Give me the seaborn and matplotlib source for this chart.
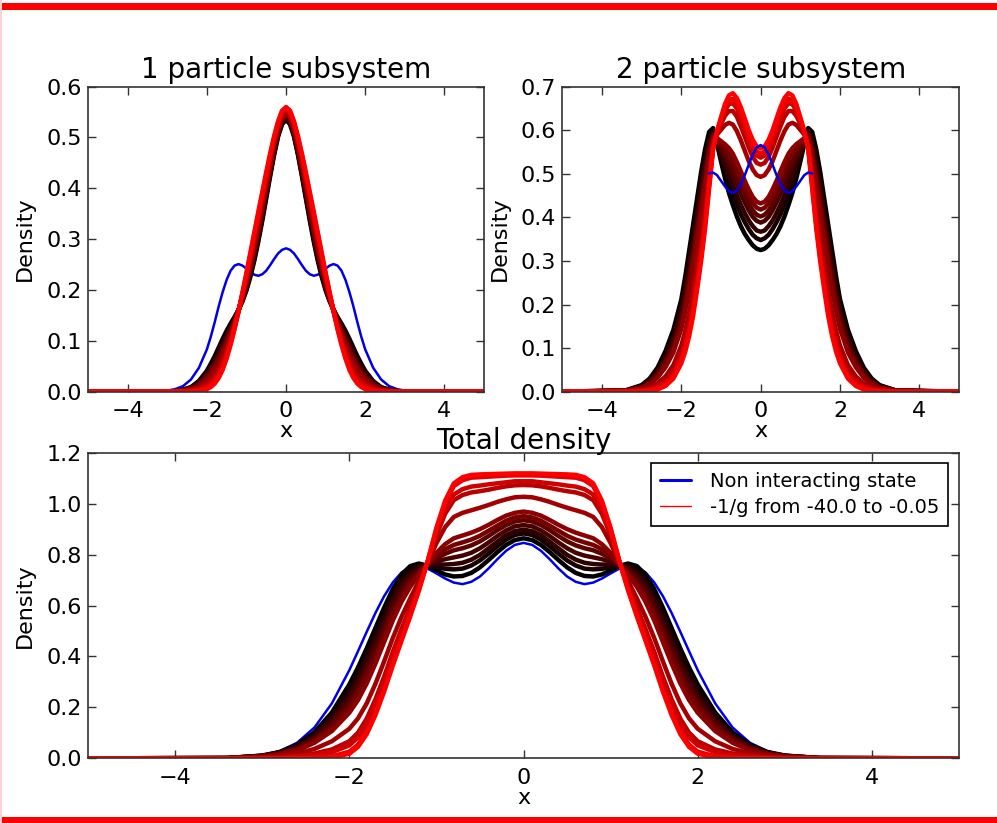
import matplotlib
matplotlib.use("Agg")
import matplotlib.pyplot as plt
from matplotlib.patches import Rectangle
from matplotlib.lines import Line2D
import pandas as pd
import seaborn as sns

# ---------------- data ----------------
X = [-5.0, -3.4, -3.0, -2.8, -2.6, -2.4, -2.2, -2.0, -1.9, -1.8, -1.7, -1.6, -1.5, -1.4, -1.3, -1.2,
     -1.1, -1.0, -0.9, -0.8, -0.7, -0.6, -0.5, -0.4, -0.3, -0.2, -0.1, 0.0, 0.1, 0.2, 0.3, 0.4, 0.5,
     0.6, 0.7, 0.8, 0.9, 1.0, 1.1, 1.2, 1.3, 1.4, 1.5, 1.6, 1.7, 1.8, 1.9, 2.0, 2.2, 2.4, 2.6, 2.8,
     3.0, 3.4, 5.0]

ONE_BLUE = [0, 0, 0.002, 0.005, 0.011, 0.024, 0.047, 0.083, 0.108, 0.137, 0.168, 0.196, 0.220, 0.238, 0.248, 0.251, 0.248, 0.242, 0.235, 0.230, 0.228, 0.231, 0.238, 0.249, 0.261, 0.272, 0.279, 0.282, 0.279, 0.272, 0.261, 0.249, 0.238, 0.231, 0.228, 0.230, 0.235, 0.242, 0.248, 0.251, 0.248, 0.238, 0.220, 0.196, 0.168, 0.137, 0.108, 0.083, 0.047, 0.024, 0.011, 0.005, 0.002, 0, 0]

ONE_PARTICLE = [
    [0, 0, 0, 0.001, 0.004, 0.009, 0.021, 0.041, 0.055, 0.070, 0.087, 0.104, 0.120, 0.134, 0.147, 0.161, 0.178, 0.199, 0.226, 0.258, 0.295, 0.336, 0.380, 0.424, 0.466, 0.502, 0.526, 0.535, 0.526, 0.502, 0.466, 0.424, 0.380, 0.336, 0.295, 0.258, 0.226, 0.199, 0.178, 0.161, 0.147, 0.134, 0.120, 0.104, 0.087, 0.070, 0.055, 0.041, 0.021, 0.009, 0.004, 0.001, 0, 0, 0],
    [0, 0, 0, 0.001, 0.004, 0.008, 0.019, 0.038, 0.051, 0.066, 0.082, 0.099, 0.116, 0.131, 0.145, 0.161, 0.179, 0.202, 0.230, 0.262, 0.300, 0.341, 0.384, 0.428, 0.469, 0.504, 0.528, 0.537, 0.528, 0.504, 0.469, 0.428, 0.384, 0.341, 0.300, 0.262, 0.230, 0.202, 0.179, 0.161, 0.145, 0.131, 0.116, 0.099, 0.082, 0.066, 0.051, 0.038, 0.019, 0.008, 0.004, 0.001, 0, 0, 0],
    [0, 0, 0, 0.001, 0.003, 0.008, 0.018, 0.035, 0.048, 0.061, 0.077, 0.094, 0.111, 0.127, 0.143, 0.161, 0.181, 0.205, 0.234, 0.267, 0.304, 0.345, 0.388, 0.431, 0.472, 0.507, 0.530, 0.539, 0.530, 0.507, 0.472, 0.431, 0.388, 0.345, 0.304, 0.267, 0.234, 0.205, 0.181, 0.161, 0.143, 0.127, 0.111, 0.094, 0.077, 0.061, 0.048, 0.035, 0.018, 0.008, 0.003, 0.001, 0, 0, 0],
    [0, 0, 0, 0.001, 0.003, 0.007, 0.016, 0.032, 0.044, 0.057, 0.073, 0.089, 0.107, 0.124, 0.141, 0.160, 0.182, 0.207, 0.238, 0.271, 0.309, 0.350, 0.393, 0.435, 0.475, 0.509, 0.532, 0.541, 0.532, 0.509, 0.475, 0.435, 0.393, 0.350, 0.309, 0.271, 0.238, 0.207, 0.182, 0.160, 0.141, 0.124, 0.107, 0.089, 0.073, 0.057, 0.044, 0.032, 0.016, 0.007, 0.003, 0.001, 0, 0, 0],
    [0, 0, 0, 0.001, 0.003, 0.006, 0.015, 0.030, 0.040, 0.053, 0.068, 0.085, 0.102, 0.121, 0.139, 0.160, 0.183, 0.210, 0.241, 0.276, 0.314, 0.354, 0.397, 0.438, 0.478, 0.512, 0.535, 0.543, 0.535, 0.512, 0.478, 0.438, 0.397, 0.354, 0.314, 0.276, 0.241, 0.210, 0.183, 0.160, 0.139, 0.121, 0.102, 0.085, 0.068, 0.053, 0.040, 0.030, 0.015, 0.006, 0.003, 0.001, 0, 0, 0],
    [0, 0, 0, 0.001, 0.003, 0.006, 0.013, 0.027, 0.037, 0.048, 0.063, 0.080, 0.098, 0.117, 0.137, 0.160, 0.185, 0.213, 0.245, 0.280, 0.319, 0.359, 0.401, 0.442, 0.481, 0.514, 0.537, 0.545, 0.537, 0.514, 0.481, 0.442, 0.401, 0.359, 0.319, 0.280, 0.245, 0.213, 0.185, 0.160, 0.137, 0.117, 0.098, 0.080, 0.063, 0.048, 0.037, 0.027, 0.013, 0.006, 0.003, 0.001, 0, 0, 0],
    [0, 0, 0, 0.001, 0.002, 0.005, 0.011, 0.024, 0.033, 0.044, 0.058, 0.075, 0.094, 0.114, 0.135, 0.160, 0.186, 0.216, 0.249, 0.285, 0.323, 0.363, 0.405, 0.446, 0.484, 0.516, 0.539, 0.547, 0.539, 0.516, 0.484, 0.446, 0.405, 0.363, 0.323, 0.285, 0.249, 0.216, 0.186, 0.160, 0.135, 0.114, 0.094, 0.075, 0.058, 0.044, 0.033, 0.024, 0.011, 0.005, 0.002, 0.001, 0, 0, 0],
    [0, 0, 0, 0, 0.001, 0.003, 0.008, 0.018, 0.026, 0.035, 0.049, 0.065, 0.085, 0.107, 0.132, 0.159, 0.189, 0.221, 0.257, 0.294, 0.333, 0.373, 0.413, 0.453, 0.490, 0.521, 0.543, 0.551, 0.543, 0.521, 0.490, 0.453, 0.413, 0.373, 0.333, 0.294, 0.257, 0.221, 0.189, 0.159, 0.132, 0.107, 0.085, 0.065, 0.049, 0.035, 0.026, 0.018, 0.008, 0.003, 0.001, 0, 0, 0, 0],
    [0, 0, 0, 0, 0.001, 0.002, 0.006, 0.014, 0.020, 0.029, 0.041, 0.058, 0.078, 0.102, 0.129, 0.159, 0.191, 0.226, 0.263, 0.301, 0.340, 0.379, 0.420, 0.458, 0.494, 0.525, 0.547, 0.554, 0.547, 0.525, 0.494, 0.458, 0.420, 0.379, 0.340, 0.301, 0.263, 0.226, 0.191, 0.159, 0.129, 0.102, 0.078, 0.058, 0.041, 0.029, 0.020, 0.014, 0.006, 0.002, 0.001, 0, 0, 0, 0],
    [0, 0, 0, 0, 0.001, 0.001, 0.004, 0.011, 0.016, 0.025, 0.037, 0.053, 0.074, 0.099, 0.127, 0.158, 0.192, 0.228, 0.266, 0.305, 0.345, 0.384, 0.424, 0.462, 0.497, 0.527, 0.549, 0.556, 0.549, 0.527, 0.497, 0.462, 0.424, 0.384, 0.345, 0.305, 0.266, 0.228, 0.192, 0.158, 0.127, 0.099, 0.074, 0.053, 0.037, 0.025, 0.016, 0.011, 0.004, 0.001, 0.001, 0, 0, 0, 0],
    [0, 0, 0, 0, 0, 0.001, 0.003, 0.008, 0.013, 0.020, 0.032, 0.048, 0.069, 0.095, 0.125, 0.158, 0.194, 0.231, 0.270, 0.310, 0.349, 0.388, 0.428, 0.465, 0.500, 0.530, 0.551, 0.558, 0.551, 0.530, 0.500, 0.465, 0.428, 0.388, 0.349, 0.310, 0.270, 0.231, 0.194, 0.158, 0.125, 0.095, 0.069, 0.048, 0.032, 0.020, 0.013, 0.008, 0.003, 0.001, 0, 0, 0, 0, 0],
    [0, 0, 0, 0, 0, 0, 0.001, 0.005, 0.009, 0.016, 0.027, 0.043, 0.065, 0.092, 0.123, 0.158, 0.195, 0.234, 0.274, 0.314, 0.354, 0.393, 0.432, 0.469, 0.503, 0.532, 0.553, 0.560, 0.553, 0.532, 0.503, 0.469, 0.432, 0.393, 0.354, 0.314, 0.274, 0.234, 0.195, 0.158, 0.123, 0.092, 0.065, 0.043, 0.027, 0.016, 0.009, 0.005, 0.001, 0, 0, 0, 0, 0, 0],
]

# the non-interacting 2-particle curve is only visible between x = -1.3 and 1.3
TWO_BLUE = [None] * 14 + [0.501, 0.503, 0.497, 0.484, 0.471, 0.460, 0.456, 0.462, 0.476, 0.497, 0.521, 0.544, 0.561, 0.566, 0.561, 0.544, 0.521, 0.497, 0.476, 0.462, 0.456, 0.460, 0.471, 0.484, 0.497, 0.503, 0.501] + [None] * 14

TWO_PARTICLE = [
    [0, 0.003, 0.015, 0.030, 0.055, 0.093, 0.142, 0.212, 0.265, 0.325, 0.385, 0.445, 0.505, 0.557, 0.596, 0.605, 0.568, 0.528, 0.490, 0.456, 0.428, 0.402, 0.380, 0.362, 0.348, 0.336, 0.328, 0.325, 0.328, 0.336, 0.348, 0.362, 0.380, 0.402, 0.428, 0.456, 0.490, 0.528, 0.568, 0.605, 0.596, 0.557, 0.505, 0.445, 0.385, 0.325, 0.265, 0.212, 0.142, 0.093, 0.055, 0.030, 0.015, 0.003, 0],
    [0, 0.003, 0.014, 0.027, 0.050, 0.085, 0.131, 0.197, 0.248, 0.305, 0.364, 0.424, 0.485, 0.539, 0.583, 0.600, 0.571, 0.538, 0.507, 0.478, 0.454, 0.429, 0.407, 0.389, 0.373, 0.360, 0.352, 0.348, 0.352, 0.360, 0.373, 0.389, 0.407, 0.429, 0.454, 0.478, 0.507, 0.538, 0.571, 0.600, 0.583, 0.539, 0.485, 0.424, 0.364, 0.305, 0.248, 0.197, 0.131, 0.085, 0.050, 0.027, 0.014, 0.003, 0],
    [0, 0.002, 0.012, 0.025, 0.046, 0.079, 0.122, 0.185, 0.234, 0.290, 0.347, 0.407, 0.468, 0.524, 0.572, 0.596, 0.573, 0.546, 0.521, 0.496, 0.474, 0.451, 0.429, 0.410, 0.393, 0.380, 0.370, 0.367, 0.370, 0.380, 0.393, 0.410, 0.429, 0.451, 0.474, 0.496, 0.521, 0.546, 0.573, 0.596, 0.572, 0.524, 0.468, 0.407, 0.347, 0.290, 0.234, 0.185, 0.122, 0.079, 0.046, 0.025, 0.012, 0.002, 0],
    [0, 0.002, 0.011, 0.022, 0.042, 0.071, 0.112, 0.172, 0.218, 0.272, 0.328, 0.388, 0.450, 0.508, 0.561, 0.592, 0.576, 0.556, 0.536, 0.517, 0.497, 0.475, 0.454, 0.434, 0.416, 0.401, 0.392, 0.388, 0.392, 0.401, 0.416, 0.434, 0.454, 0.475, 0.497, 0.517, 0.536, 0.556, 0.576, 0.592, 0.561, 0.508, 0.450, 0.388, 0.328, 0.272, 0.218, 0.172, 0.112, 0.071, 0.042, 0.022, 0.011, 0.002, 0],
    [0, 0.002, 0.010, 0.021, 0.039, 0.067, 0.105, 0.164, 0.208, 0.260, 0.316, 0.376, 0.437, 0.497, 0.553, 0.589, 0.578, 0.562, 0.546, 0.530, 0.513, 0.492, 0.470, 0.450, 0.431, 0.416, 0.406, 0.402, 0.406, 0.416, 0.431, 0.450, 0.470, 0.492, 0.513, 0.530, 0.546, 0.562, 0.578, 0.589, 0.553, 0.497, 0.437, 0.376, 0.316, 0.260, 0.208, 0.164, 0.105, 0.067, 0.039, 0.021, 0.010, 0.002, 0],
    [0, 0.002, 0.009, 0.019, 0.035, 0.061, 0.097, 0.153, 0.196, 0.246, 0.301, 0.361, 0.423, 0.484, 0.544, 0.585, 0.580, 0.569, 0.558, 0.546, 0.531, 0.511, 0.489, 0.468, 0.449, 0.433, 0.422, 0.418, 0.422, 0.433, 0.449, 0.468, 0.489, 0.511, 0.531, 0.546, 0.558, 0.569, 0.580, 0.585, 0.544, 0.484, 0.423, 0.361, 0.301, 0.246, 0.196, 0.153, 0.097, 0.061, 0.035, 0.019, 0.009, 0.002, 0],
    [0, 0.002, 0.009, 0.017, 0.032, 0.056, 0.090, 0.144, 0.185, 0.234, 0.288, 0.348, 0.411, 0.473, 0.536, 0.582, 0.582, 0.575, 0.568, 0.559, 0.546, 0.527, 0.506, 0.484, 0.464, 0.447, 0.436, 0.432, 0.436, 0.447, 0.464, 0.484, 0.506, 0.527, 0.546, 0.559, 0.568, 0.575, 0.582, 0.582, 0.536, 0.473, 0.411, 0.348, 0.288, 0.234, 0.185, 0.144, 0.090, 0.056, 0.032, 0.017, 0.009, 0.002, 0],
    [0, 0.001, 0.005, 0.010, 0.019, 0.035, 0.061, 0.106, 0.140, 0.183, 0.234, 0.294, 0.357, 0.426, 0.502, 0.570, 0.590, 0.601, 0.612, 0.617, 0.613, 0.598, 0.577, 0.553, 0.529, 0.510, 0.497, 0.493, 0.497, 0.510, 0.529, 0.553, 0.577, 0.598, 0.613, 0.617, 0.612, 0.601, 0.590, 0.570, 0.502, 0.426, 0.357, 0.294, 0.234, 0.183, 0.140, 0.106, 0.061, 0.035, 0.019, 0.010, 0.005, 0.001, 0],
    [0, 0.001, 0.003, 0.007, 0.013, 0.026, 0.048, 0.089, 0.120, 0.160, 0.209, 0.269, 0.333, 0.404, 0.486, 0.564, 0.593, 0.614, 0.633, 0.644, 0.644, 0.631, 0.609, 0.585, 0.560, 0.539, 0.525, 0.521, 0.525, 0.539, 0.560, 0.585, 0.609, 0.631, 0.644, 0.644, 0.633, 0.614, 0.593, 0.564, 0.486, 0.404, 0.333, 0.269, 0.209, 0.160, 0.120, 0.089, 0.048, 0.026, 0.013, 0.007, 0.003, 0.001, 0],
    [0, 0, 0.002, 0.005, 0.010, 0.020, 0.040, 0.078, 0.108, 0.146, 0.194, 0.254, 0.318, 0.391, 0.477, 0.560, 0.595, 0.621, 0.645, 0.660, 0.662, 0.650, 0.628, 0.603, 0.577, 0.556, 0.542, 0.537, 0.542, 0.556, 0.577, 0.603, 0.628, 0.650, 0.662, 0.660, 0.645, 0.621, 0.595, 0.560, 0.477, 0.391, 0.318, 0.254, 0.194, 0.146, 0.108, 0.078, 0.040, 0.020, 0.010, 0.005, 0.002, 0, 0],
    [0, 0, 0.002, 0.003, 0.008, 0.017, 0.036, 0.072, 0.101, 0.138, 0.186, 0.246, 0.310, 0.384, 0.472, 0.558, 0.597, 0.625, 0.652, 0.669, 0.672, 0.660, 0.639, 0.614, 0.587, 0.566, 0.551, 0.546, 0.551, 0.566, 0.587, 0.614, 0.639, 0.660, 0.672, 0.669, 0.652, 0.625, 0.597, 0.558, 0.472, 0.384, 0.310, 0.246, 0.186, 0.138, 0.101, 0.072, 0.036, 0.017, 0.008, 0.003, 0.002, 0, 0],
    [0, 0, 0.001, 0.002, 0.005, 0.013, 0.030, 0.065, 0.092, 0.128, 0.175, 0.235, 0.300, 0.375, 0.465, 0.556, 0.598, 0.630, 0.660, 0.680, 0.685, 0.674, 0.653, 0.627, 0.600, 0.578, 0.563, 0.558, 0.563, 0.578, 0.600, 0.627, 0.653, 0.674, 0.685, 0.680, 0.660, 0.630, 0.598, 0.556, 0.465, 0.375, 0.300, 0.235, 0.175, 0.128, 0.092, 0.065, 0.030, 0.013, 0.005, 0.002, 0.001, 0, 0],
]

TOTAL_BLUE = [0, 0.001, 0.011, 0.028, 0.061, 0.121, 0.216, 0.346, 0.421, 0.497, 0.571, 0.637, 0.691, 0.730, 0.751, 0.755, 0.745, 0.726, 0.706, 0.690, 0.684, 0.693, 0.714, 0.746, 0.782, 0.815, 0.838, 0.846, 0.838, 0.815, 0.782, 0.746, 0.714, 0.693, 0.684, 0.690, 0.706, 0.726, 0.745, 0.755, 0.751, 0.730, 0.691, 0.637, 0.571, 0.497, 0.421, 0.346, 0.216, 0.121, 0.061, 0.028, 0.011, 0.001, 0]

TOTAL = [
    [0, 0.001, 0.011, 0.025, 0.053, 0.102, 0.180, 0.290, 0.357, 0.432, 0.512, 0.592, 0.665, 0.722, 0.755, 0.765, 0.756, 0.738, 0.722, 0.714, 0.716, 0.728, 0.750, 0.779, 0.810, 0.838, 0.857, 0.864, 0.857, 0.838, 0.810, 0.779, 0.750, 0.728, 0.716, 0.714, 0.722, 0.738, 0.756, 0.765, 0.755, 0.722, 0.665, 0.592, 0.512, 0.432, 0.357, 0.290, 0.180, 0.102, 0.053, 0.025, 0.011, 0.001, 0],
    [0, 0.001, 0.010, 0.023, 0.049, 0.094, 0.167, 0.270, 0.334, 0.407, 0.486, 0.567, 0.643, 0.703, 0.740, 0.757, 0.757, 0.751, 0.744, 0.742, 0.745, 0.757, 0.777, 0.804, 0.833, 0.859, 0.877, 0.883, 0.877, 0.859, 0.833, 0.804, 0.777, 0.757, 0.745, 0.742, 0.744, 0.751, 0.757, 0.757, 0.740, 0.703, 0.643, 0.567, 0.486, 0.407, 0.334, 0.270, 0.167, 0.094, 0.049, 0.023, 0.010, 0.001, 0],
    [0, 0.001, 0.010, 0.022, 0.046, 0.088, 0.156, 0.253, 0.315, 0.387, 0.466, 0.547, 0.625, 0.687, 0.728, 0.751, 0.759, 0.761, 0.761, 0.763, 0.768, 0.780, 0.799, 0.825, 0.851, 0.876, 0.892, 0.898, 0.892, 0.876, 0.851, 0.825, 0.799, 0.780, 0.768, 0.763, 0.761, 0.761, 0.759, 0.751, 0.728, 0.687, 0.625, 0.547, 0.466, 0.387, 0.315, 0.253, 0.156, 0.088, 0.046, 0.022, 0.010, 0.001, 0],
    [0, 0.001, 0.009, 0.020, 0.042, 0.081, 0.144, 0.234, 0.293, 0.363, 0.442, 0.524, 0.604, 0.669, 0.715, 0.744, 0.760, 0.772, 0.782, 0.789, 0.796, 0.807, 0.825, 0.848, 0.873, 0.895, 0.911, 0.916, 0.911, 0.895, 0.873, 0.848, 0.825, 0.807, 0.796, 0.789, 0.782, 0.772, 0.760, 0.744, 0.715, 0.669, 0.604, 0.524, 0.442, 0.363, 0.293, 0.234, 0.144, 0.081, 0.042, 0.020, 0.009, 0.001, 0],
    [0, 0.001, 0.008, 0.018, 0.038, 0.074, 0.130, 0.214, 0.270, 0.338, 0.416, 0.500, 0.581, 0.649, 0.700, 0.736, 0.761, 0.785, 0.803, 0.817, 0.825, 0.836, 0.852, 0.873, 0.896, 0.916, 0.930, 0.935, 0.930, 0.916, 0.896, 0.873, 0.852, 0.836, 0.825, 0.817, 0.803, 0.785, 0.761, 0.736, 0.700, 0.649, 0.581, 0.500, 0.416, 0.338, 0.270, 0.214, 0.130, 0.074, 0.038, 0.018, 0.008, 0.001, 0],
    [0, 0.001, 0.007, 0.017, 0.035, 0.068, 0.120, 0.198, 0.251, 0.317, 0.396, 0.480, 0.563, 0.634, 0.688, 0.729, 0.762, 0.795, 0.821, 0.838, 0.848, 0.859, 0.874, 0.894, 0.914, 0.933, 0.946, 0.951, 0.946, 0.933, 0.914, 0.894, 0.874, 0.859, 0.848, 0.838, 0.821, 0.795, 0.762, 0.729, 0.688, 0.634, 0.563, 0.480, 0.396, 0.317, 0.251, 0.198, 0.120, 0.068, 0.035, 0.017, 0.007, 0.001, 0],
    [0, 0.001, 0.006, 0.015, 0.031, 0.061, 0.107, 0.179, 0.229, 0.294, 0.372, 0.457, 0.542, 0.615, 0.674, 0.722, 0.764, 0.807, 0.841, 0.864, 0.875, 0.886, 0.900, 0.917, 0.936, 0.953, 0.964, 0.969, 0.964, 0.953, 0.936, 0.917, 0.900, 0.886, 0.875, 0.864, 0.841, 0.807, 0.764, 0.722, 0.674, 0.615, 0.542, 0.457, 0.372, 0.294, 0.229, 0.179, 0.107, 0.061, 0.031, 0.015, 0.006, 0.001, 0],
    [0, 0, 0.004, 0.009, 0.019, 0.037, 0.067, 0.116, 0.157, 0.216, 0.293, 0.381, 0.473, 0.556, 0.629, 0.698, 0.768, 0.845, 0.908, 0.948, 0.964, 0.974, 0.984, 0.995, 1.007, 1.017, 1.025, 1.027, 1.025, 1.017, 1.007, 0.995, 0.984, 0.974, 0.964, 0.948, 0.908, 0.845, 0.768, 0.698, 0.629, 0.556, 0.473, 0.381, 0.293, 0.216, 0.157, 0.116, 0.067, 0.037, 0.019, 0.009, 0.004, 0, 0],
    [0, 0, 0.002, 0.005, 0.010, 0.019, 0.035, 0.067, 0.101, 0.156, 0.232, 0.321, 0.419, 0.509, 0.594, 0.679, 0.772, 0.875, 0.960, 1.014, 1.034, 1.044, 1.049, 1.055, 1.062, 1.068, 1.072, 1.073, 1.072, 1.068, 1.062, 1.055, 1.049, 1.044, 1.034, 1.014, 0.960, 0.875, 0.772, 0.679, 0.594, 0.509, 0.419, 0.321, 0.232, 0.156, 0.101, 0.067, 0.035, 0.019, 0.010, 0.005, 0.002, 0, 0],
    [0, 0, 0.001, 0.003, 0.006, 0.013, 0.024, 0.051, 0.082, 0.135, 0.211, 0.302, 0.401, 0.493, 0.582, 0.673, 0.773, 0.885, 0.977, 1.036, 1.057, 1.067, 1.071, 1.076, 1.080, 1.084, 1.088, 1.088, 1.088, 1.084, 1.080, 1.076, 1.071, 1.067, 1.057, 1.036, 0.977, 0.885, 0.773, 0.673, 0.582, 0.493, 0.401, 0.302, 0.211, 0.135, 0.082, 0.051, 0.024, 0.013, 0.006, 0.003, 0.001, 0, 0],
    [0, 0, 0, 0.001, 0.002, 0.004, 0.008, 0.026, 0.054, 0.105, 0.180, 0.272, 0.374, 0.470, 0.564, 0.663, 0.774, 0.900, 1.003, 1.069, 1.092, 1.102, 1.104, 1.106, 1.108, 1.110, 1.111, 1.111, 1.111, 1.110, 1.108, 1.106, 1.104, 1.102, 1.092, 1.069, 1.003, 0.900, 0.774, 0.663, 0.564, 0.470, 0.374, 0.272, 0.180, 0.105, 0.054, 0.026, 0.008, 0.004, 0.002, 0.001, 0, 0, 0],
    [0, 0, 0, 0, 0, 0.001, 0.003, 0.018, 0.045, 0.095, 0.170, 0.262, 0.365, 0.462, 0.558, 0.660, 0.775, 0.905, 1.012, 1.080, 1.104, 1.113, 1.115, 1.116, 1.117, 1.118, 1.119, 1.119, 1.119, 1.118, 1.117, 1.116, 1.115, 1.113, 1.104, 1.080, 1.012, 0.905, 0.775, 0.660, 0.558, 0.462, 0.365, 0.262, 0.170, 0.095, 0.045, 0.018, 0.003, 0.001, 0, 0, 0, 0, 0],
]

TITLES = ["1 particle subsystem", "2 particle subsystem", "Total density"]
LEGEND_LABELS = ["Non interacting state", "-1/g from -40.0 to -0.05"]
X_TICKS = [-4, -2, 0, 2, 4]
Y_TICKS_ONE = [0.0, 0.1, 0.2, 0.3, 0.4, 0.5, 0.6]
Y_TICKS_TWO = [0.0, 0.1, 0.2, 0.3, 0.4, 0.5, 0.6, 0.7]
Y_TICKS_TOTAL = [0.0, 0.2, 0.4, 0.6, 0.8, 1.0, 1.2]

# ---------------- style ----------------
sns.set_theme(style="ticks")
plt.rcParams["font.family"] = ["DejaVu Sans"]
plt.rcParams["axes.unicode_minus"] = True
for key in ["text.color", "axes.labelcolor", "xtick.color", "ytick.color"]:
    plt.rcParams[key] = "black"

n_curves = len(TOTAL)
names = [f"c{k:02d}" for k in range(n_curves)]
palette = {nm: (k / (n_curves - 1), 0.0, 0.0) for k, nm in enumerate(names)}
BLUE = "#0000e6"


def long_frame(curves):
    frames = []
    for nm, vals in zip(names, curves):
        frames.append(pd.DataFrame({"x": X, "density": vals, "curve": nm}))
    return pd.concat(frames, ignore_index=True)


fig = plt.figure(figsize=(9.97, 8.23), dpi=100)
fig.patch.set_facecolor("white")

ax1 = fig.add_axes([0.0883, 0.5241, 0.3972, 0.3706])
ax2 = fig.add_axes([0.5640, 0.5241, 0.3979, 0.3706])
ax3 = fig.add_axes([0.0883, 0.0786, 0.8736, 0.3713])

panels = [
    (ax1, ONE_BLUE, ONE_PARTICLE, (0, 0.6), Y_TICKS_ONE, False),
    (ax2, TWO_BLUE, TWO_PARTICLE, (0, 0.7), Y_TICKS_TWO, True),
    (ax3, TOTAL_BLUE, TOTAL, (0, 1.2), Y_TICKS_TOTAL, False),
]

for (ax, blue, curves, ylim, yticks, blue_on_top), title in zip(panels, TITLES):
    blue_df = pd.DataFrame({"x": X, "density": pd.to_numeric(pd.Series(blue, dtype="float"))})
    blue_df = blue_df.dropna()
    if not blue_on_top:
        sns.lineplot(data=blue_df, x="x", y="density", color=BLUE, lw=1.8,
                     estimator=None, sort=False, ax=ax)
    sns.lineplot(data=long_frame(curves), x="x", y="density", hue="curve",
                 hue_order=names, palette=palette, lw=3.2, estimator=None,
                 sort=False, legend=False, ax=ax)
    if blue_on_top:
        sns.lineplot(data=blue_df, x="x", y="density", color=BLUE, lw=1.8,
                     estimator=None, sort=False, ax=ax)
    ax.set_xlim(-5, 5)
    ax.set_ylim(*ylim)
    ax.set_xticks(X_TICKS)
    ax.set_yticks(yticks)
    ax.set_xlabel("x", fontsize=16, labelpad=0)
    ax.set_ylabel("Density", fontsize=16, labelpad=8)
    ax.tick_params(direction="in", top=True, right=True, length=6, width=1,
                   labelsize=16, color="#333333", labelcolor="black")
    ax.tick_params(axis="x", pad=7)
    ax.tick_params(axis="y", pad=4.5)
    for sp in ax.spines.values():
        sp.set_visible(True)
        sp.set_color("#333333")
        sp.set_linewidth(1.2)
    ax.set_title(title, fontsize=20, pad=6 if ax is not ax3 else 3, color="black")

handles = [Line2D([], [], color=BLUE, lw=2.2), Line2D([], [], color="red", lw=1.0)]
leg = ax3.legend(handles, LEGEND_LABELS, loc="upper right", fontsize=14, frameon=True,
                 fancybox=False, framealpha=1, edgecolor="black", handlelength=1.6,
                 handletextpad=1.0, labelspacing=0.35, borderpad=0.45, borderaxespad=0.55)
leg.get_frame().set_linewidth(1.2)

# red frame of the picture
fig.add_artist(Rectangle((0, 1 - 10 / 823), 1, 7 / 823, transform=fig.transFigure,
                         facecolor="red", edgecolor="none"))
fig.add_artist(Rectangle((0, 0), 1, 6 / 823, transform=fig.transFigure,
                         facecolor="red", edgecolor="none"))
fig.add_artist(Rectangle((0, 0), 2 / 997, 1, transform=fig.transFigure,
                         facecolor="#ffd0d0", edgecolor="none"))

fig.savefig("out.png", dpi=100)
